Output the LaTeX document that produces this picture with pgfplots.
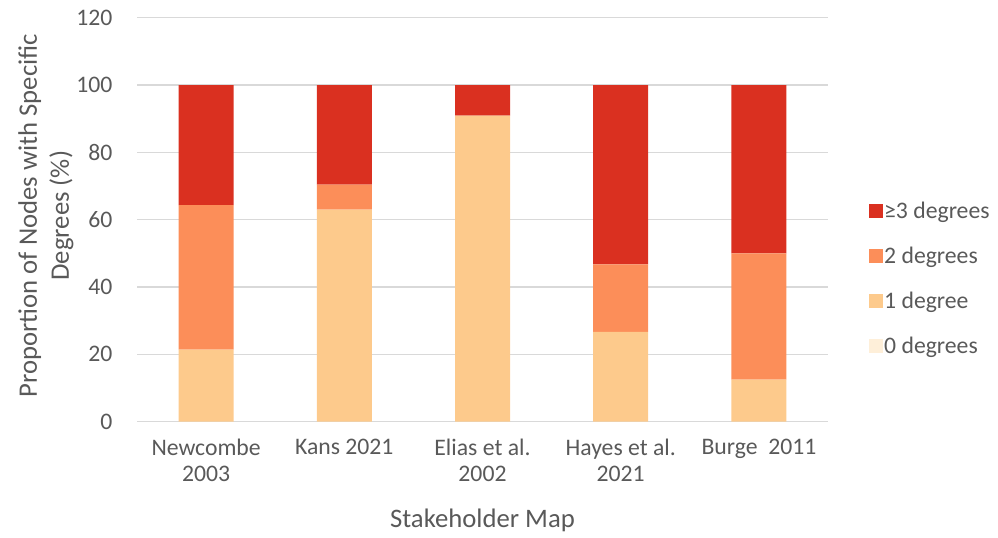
\documentclass[border=0pt]{standalone}
\usepackage{pgfplots}
\pgfplotsset{compat=1.18}
\usepackage{pgfplotstable}
\usepackage{fontspec}
\setmainfont{Carlito}
\definecolor{cthree}{HTML}{DA3020}
\definecolor{ctwo}{HTML}{FC8E59}
\definecolor{cone}{HTML}{FDCA8C}
\definecolor{czero}{HTML}{FEEFD9}
\definecolor{txt}{HTML}{595959}
\definecolor{gridc}{HTML}{D9D9D9}
\pgfplotstableread{
x n0 n1 n2 n3
0 0 21.4 42.9 35.7
1 0 63.0 7.4 29.6
2 0 90.9 0 9.1
3 0 26.7 20.0 53.3
4 0 12.5 37.5 50.0
}\datatable
\begin{document}
\begin{tikzpicture}
\useasboundingbox (0,0) rectangle (998bp,538bp);
\begin{axis}[
  at={(137bp,116.3bp)}, anchor=south west,
  scale only axis, width=691bp, height=404bp,
  ybar stacked, bar width=55bp,
  xmin=-0.5, xmax=4.5, ymin=0, ymax=120,
  ytick={0,20,...,120},
  xtick=data,
  xticklabels={Newcombe\\2003, Kans 2021, Elias et al.\\2002, Hayes et al.\\2021, Burge\ \ 2011},
  ymajorgrids, grid style={gridc, line width=1.3bp},
  axis line style={draw=none},
  major tick length=0pt,
  /pgf/number format/assume math mode=true,
  tick label style={font=\fontsize{23.7bp}{26bp}\selectfont, text=txt},
  xticklabel style={align=center, anchor=north, yshift=-14bp},
  yticklabel style={xshift=-21bp},
  ylabel={Proportion of Nodes with Specific\\Degrees (\%)},
  ylabel style={at={(axis description cs:-0.132,0.51)}, anchor=center, align=center, font=\fontsize{26.7bp}{32bp}\selectfont, text=txt},
  xlabel={Stakeholder Map},
  xlabel style={at={(axis description cs:0.5,0)}, yshift=-99bp, anchor=center, font=\fontsize{26.7bp}{30bp}\selectfont, text=txt},
  legend style={at={(1,0.354)}, anchor=west, xshift=38bp, draw=none, fill=none,
    font=\fontsize{23.7bp}{28bp}\selectfont, text=txt, row sep=25bp,
    nodes={inner sep=1bp}},
  legend cell align=left,
  reverse legend,
  legend image code/.code={\fill[#1, draw=none] (0bp,-7bp) rectangle (14bp,7bp);},
]
\addplot[fill=czero, draw=none] table[x=x, y=n0] {\datatable};
\addplot[fill=cone, draw=none] table[x=x, y=n1] {\datatable};
\addplot[fill=ctwo, draw=none] table[x=x, y=n2] {\datatable};
\addplot[fill=cthree, draw=none] table[x=x, y=n3] {\datatable};
\legend{0 degrees, 1 degree, 2 degrees, ≥3 degrees}
\end{axis}
\end{tikzpicture}
\end{document}
